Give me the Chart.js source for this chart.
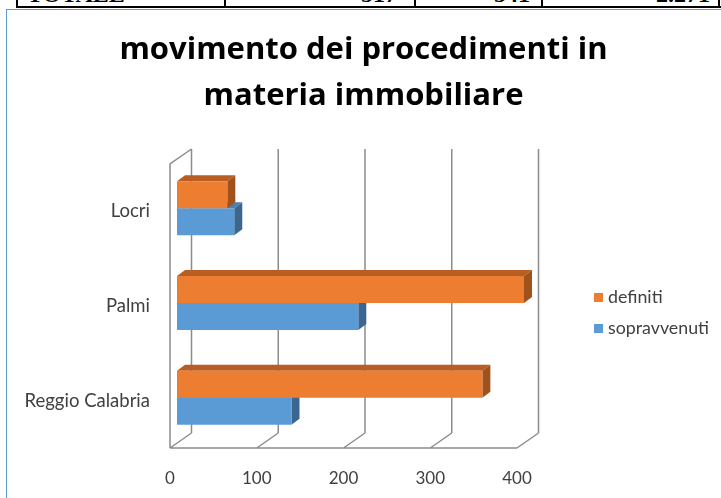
<!DOCTYPE html>
<html lang="it">
<head>
  <meta charset="UTF-8" />
  <title>movimento dei procedimenti in materia immobiliare</title>
  <script src="https://cdn.jsdelivr.net/npm/chart.js"></script>
  <style>
    body { margin: 0; background: #fff; font-family: Lato, sans-serif; }
    #wrap { position: relative; width: 721px; height: 498px; overflow: hidden; }
    #chart { position: absolute; left: 0; top: 0; }
    /* pezzo di tabella tagliato in alto */
    .tline { position: absolute; background: #000; }
    .tcell { position: absolute; top: -18px; font: bold 24px 'Liberation Serif', serif; line-height: 24px; color: #000; }
    #frame { position: absolute; left: 6px; top: 9px; width: 900px; height: 700px;
             border-left: 1px solid #5B9BD5; border-top: 1px solid #5B9BD5; }
    .leg { position: absolute; left: 594px; font-size: 17.8px; color: #404040; line-height: 20px; }
    .leg span { display: inline-block; width: 9px; height: 9px; margin-right: 5px; vertical-align: 1px; }
  </style>
</head>
<body>
<div id="wrap">
  <div class="tline" style="left:16px;top:6px;width:705px;height:2px"></div>
  <div class="tline" style="left:16px;top:0;width:2px;height:8px"></div>
  <div class="tline" style="left:224px;top:0;width:2px;height:8px"></div>
  <div class="tline" style="left:414px;top:0;width:2px;height:8px"></div>
  <div class="tline" style="left:541px;top:0;width:2px;height:8px"></div>
  <div class="tline" style="left:718px;top:0;width:2px;height:8px"></div>
  <div class="tcell" style="left:27px">TOTALE</div>
  <div class="tcell" style="right:324px">517</div>
  <div class="tcell" style="right:191px">541</div>
  <div class="tcell" style="right:11px">2.271</div>
  <div id="frame"></div>
  <canvas id="chart" width="721" height="498"></canvas>
  <div id="legend"></div>
</div>

<script>
  // dati
  const sedi = ['Locri', 'Palmi', 'Reggio Calabria'];
  const definiti = [58, 400, 352];
  const sopravvenuti = [66, 209, 132];
  const xTicks = [0, 100, 200, 300, 400];

  const arancio = '#ED7D31';
  const blu = '#5B9BD5';
  // colori delle facce 3D (sopra, lato)
  const facce = [
    { top: '#B85E22', side: '#A1521C' },  // definiti
    { top: '#4A80B2', side: '#3B6690' }   // sopravvenuti
  ];

  const DEPTH = { x: 21.5, y: -15 };   // profondita' della griglia
  const SHIFT = { x: 7, y: -3 };       // barre spostate dentro la profondita'
  const BAR3D = { x: 8, y: -6 };       // spessore delle barre

  // griglia in prospettiva + facce laterali delle barre
  const grid3d = {
    id: 'grid3d',
    beforeDatasetsDraw(chart) {
      const ctx = chart.ctx;
      const a = chart.chartArea;
      const xs = chart.scales.x;
      ctx.save();
      ctx.strokeStyle = '#8C8C8C';
      ctx.lineWidth = 1.5;
      ctx.beginPath();
      xTicks.forEach(v => {
        const px = xs.getPixelForValue(v);
        ctx.moveTo(px + DEPTH.x, a.top + DEPTH.y);
        ctx.lineTo(px + DEPTH.x, a.bottom + DEPTH.y);
        ctx.moveTo(px, a.bottom);
        ctx.lineTo(px + DEPTH.x, a.bottom + DEPTH.y);
      });
      const x0 = xs.getPixelForValue(0);
      ctx.moveTo(x0, a.bottom);
      ctx.lineTo(xs.getPixelForValue(400), a.bottom);
      ctx.moveTo(x0, a.bottom);
      ctx.lineTo(x0, a.top);
      ctx.lineTo(x0 + DEPTH.x, a.top + DEPTH.y);
      ctx.stroke();
      ctx.restore();

      ctx.save();
      ctx.translate(SHIFT.x, SHIFT.y);
      for (let d = chart.data.datasets.length - 1; d >= 0; d--) {
        const meta = chart.getDatasetMeta(d);
        meta.data.forEach(bar => {
          const p = bar.getProps(['x', 'y', 'base', 'height'], true);
          const top = p.y - p.height / 2;
          const bottom = p.y + p.height / 2;
          ctx.fillStyle = facce[d].top;
          ctx.beginPath();
          ctx.moveTo(p.base, top);
          ctx.lineTo(p.base + BAR3D.x, top + BAR3D.y);
          ctx.lineTo(p.x + BAR3D.x, top + BAR3D.y);
          ctx.lineTo(p.x, top);
          ctx.closePath();
          ctx.fill();
          ctx.fillStyle = facce[d].side;
          ctx.beginPath();
          ctx.moveTo(p.x, top);
          ctx.lineTo(p.x + BAR3D.x, top + BAR3D.y);
          ctx.lineTo(p.x + BAR3D.x, bottom + BAR3D.y);
          ctx.lineTo(p.x, bottom);
          ctx.closePath();
          ctx.fill();
        });
      }
    },
    afterDatasetsDraw(chart) {
      chart.ctx.restore();
    }
  };

  const ctx = document.getElementById('chart').getContext('2d');
  const chart = new Chart(ctx, {
    type: 'bar',
    data: {
      labels: sedi,
      datasets: [
        { label: 'definiti', data: definiti, backgroundColor: arancio, clip: false },
        { label: 'sopravvenuti', data: sopravvenuti, backgroundColor: blu, clip: false }
      ]
    },
    options: {
      indexAxis: 'y',
      responsive: false,
      animation: false,
      events: [],
      layout: { padding: { left: 6, right: 0, top: 0, bottom: 0 } },
      categoryPercentage: 0.57,
      barPercentage: 1.0,
      plugins: {
        legend: { display: false },
        tooltip: { enabled: false },
        title: {
          display: true,
          text: ['movimento dei procedimenti in', 'materia immobiliare'],
          color: '#000',
          font: { family: "'Open Sans'", size: 31, weight: 'bold', lineHeight: '46px' },
          padding: { top: 27.5, bottom: 44.5 }
        }
      },
      scales: {
        y: {
          type: 'category',
          position: 'left',
          grid: { display: false, drawTicks: false },
          border: { display: false },
          ticks: { color: '#404040', font: { family: 'Lato', size: 18.5 }, padding: 20 },
          afterFit(s) { s.width = 164; }
        },
        x: {
          type: 'linear',
          min: 0,
          max: 400,
          grid: { display: false, drawTicks: false },
          border: { display: false },
          ticks: { stepSize: 100, color: '#404040', font: { family: 'Lato', size: 17 }, padding: 20 },
          afterFit(s) { s.height = 50; }
        },
        spazio: {
          type: 'linear',
          axis: 'y',
          position: 'right',
          display: true,
          grid: { display: false },
          border: { display: false },
          ticks: { display: false },
          afterFit(s) { s.width = 204; }
        }
      }
    },
    plugins: [grid3d]
  });

  // legenda
  const legend = document.getElementById('legend');
  const tops = [286, 317];
  chart.data.datasets.forEach((ds, i) => {
    const el = document.createElement('div');
    el.className = 'leg';
    el.style.top = tops[i] + 'px';
    el.innerHTML = '<span style="background:' + ds.backgroundColor + '"></span>' + ds.label;
    legend.appendChild(el);
  });
</script>
</body>
</html>
